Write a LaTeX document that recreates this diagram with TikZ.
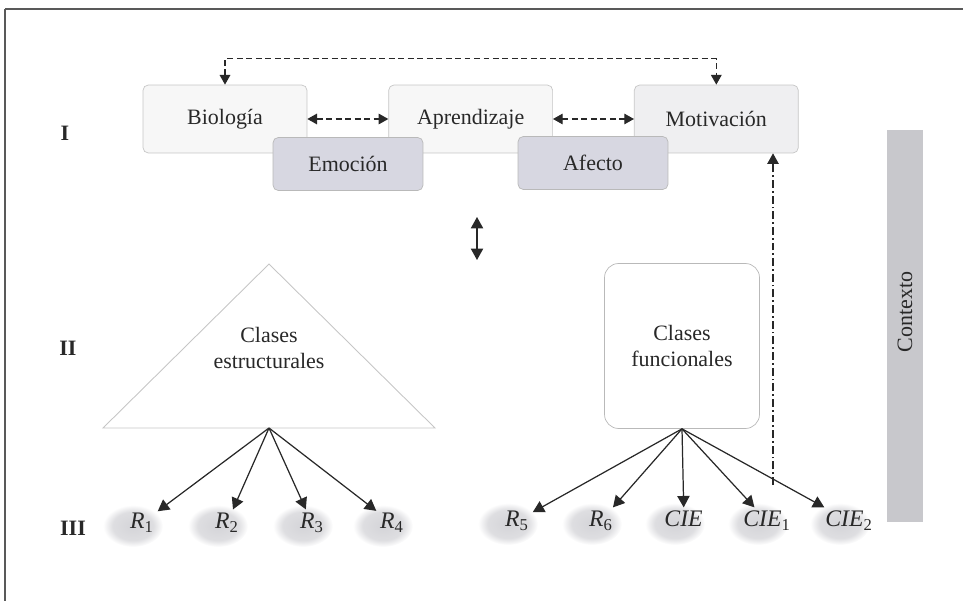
\documentclass[tikz,border=0pt]{standalone}
\usepackage{fontspec}
\setmainfont{Liberation Serif}
\usepackage{xcolor}
\usepackage{tikz}
\usetikzlibrary{arrows.meta, positioning, shapes.geometric, backgrounds}

\definecolor{boxfill}{RGB}{247,247,247}
\definecolor{motfill}{RGB}{239,239,241}
\definecolor{emofill}{RGB}{215,215,225}
\definecolor{ctxfill}{RGB}{200,200,204}
\definecolor{inkgray}{RGB}{40,40,40}
\definecolor{blobin}{RGB}{212,212,216}
\definecolor{blobmid}{RGB}{222,222,225}
\pgfdeclareradialshading{blobshade}{\pgfpoint{0bp}{0bp}}{color(0bp)=(blobin); color(17bp)=(blobmid); color(25bp)=(white); color(50bp)=(white)}

\newcommand{\resp}[2]{\textit{#1}\textsubscript{#2}}

\begin{document}
\begin{tikzpicture}[
  x=0.02cm, y=-0.02cm,
  font=\fontsize{12.5}{15}\selectfont, text=inkgray,
  topbox/.style={rectangle, draw=gray!45, rounded corners=3pt, minimum width=3.28cm,
                 minimum height=1.36cm, fill=boxfill},
  tagbox/.style={rectangle, draw=gray!55, rounded corners=3pt, minimum width=3cm,
                 minimum height=1.06cm, fill=emofill},
  funbox/.style={rectangle, draw=gray!55, rounded corners=8pt, minimum width=3.1cm,
                 minimum height=3.3cm, align=center, fill=white},
  ctxbar/.style={rectangle, fill=ctxfill, minimum width=7.86cm, minimum height=0.72cm, inner sep=0pt},
  level/.style={font=\fontsize{12.5}{15}\selectfont\bfseries},
  resp/.style={inner sep=2pt, font=\fontsize{13.5}{16}\selectfont},
  arr/.style={-{Triangle[length=6.5pt,width=7pt]}, line width=0.7pt, draw=inkgray},
  darr/.style={{Triangle[length=5.5pt,width=6pt]}-{Triangle[length=5.5pt,width=6pt]},
               line width=0.7pt, draw=inkgray, dash pattern=on 3.4pt off 2pt},
  dotarr/.style={-{Triangle[length=6pt,width=6.5pt]}, line width=0.7pt, draw=inkgray,
                 dash pattern=on 4.5pt off 1.7pt on 1pt off 1.7pt},
]
  \useasboundingbox (0,0) rectangle (963,601);
  \draw[gray!70!black, line width=1.2pt] (963,9) -- (5,9);
  \draw[gray!70!black, line width=0.8pt] (5,9) -- (5,601);

  % levels
  \node[level] (lvi) at (65,133) {I};
  \node[level] (lvii) at (68,348) {II};
  \node[level] (lviii) at (73,528) {III};

  % level I
  \node[topbox] (bio) at (225,119) {Biología};
  \node[topbox, right=1.62cm of bio] (apr) {Aprendizaje};
  \node[topbox, right=1.62cm of apr, fill=motfill] (mot) {Motivación};
  \node[tagbox] (emo) at (348,164) {Emoción};
  \node[tagbox] (afe) at (593,163) {Afecto};
  \draw[darr] (bio.east) -- (apr.west);
  \draw[darr] (apr.east) -- (mot.west);
  \draw[darr] (bio.north) -- ++(0,-26) -| (mot.north);

  \coordinate (lt) at (477,217);
  \coordinate (lb) at (477,260);
  \draw[arr, {Triangle[length=6.5pt,width=7pt]}-{Triangle[length=6.5pt,width=7pt]}] (lt) -- (lb);

  % level II
  \coordinate (apex) at (269,264);
  \coordinate (bl) at (103,428);
  \coordinate (br) at (435,428);
  \draw[gray!45, line width=0.5pt] (apex) -- (bl) -- (br) -- cycle;
  \node[align=center] (estr) at (269,348) {Clases\\estructurales};
  \coordinate (est) at (269,428);
  \node[funbox] (fun) at (682,346) {Clases\\funcionales};

  \node[ctxbar, rotate=90] (ctx) at (905,326) {\hspace*{0.56cm}Contexto};

  % level III
  \node[resp] (r1) at (142,523) {\resp{R}{1}};
  \node[resp] (r2) at (227,523) {\resp{R}{2}};
  \node[resp] (r3) at (312,523) {\resp{R}{3}};
  \node[resp] (r4) at (392,523) {\resp{R}{4}};
  \node[resp] (r5) at (517,521) {\resp{R}{5}};
  \node[resp] (r6) at (601,521) {\resp{R}{6}};
  \node[resp] (cie) at (684,521) {\resp{CIE}{}};
  \node[resp] (cie1) at (767,521) {\resp{CIE}{1}};
  \node[resp] (cie2) at (849,521) {\resp{CIE}{2}};
  \begin{scope}[on background layer]
    \foreach \r in {r1,r2,r3,r4,r5,r6,cie,cie1,cie2}
      \shade[shading=blobshade] ([xshift=-0.18cm, yshift=-0.06cm]\r.center) ellipse (30 and 21);
  \end{scope}

  \draw[arr] (est) -- (r1);
  \draw[arr] (est) -- (r2);
  \draw[arr] (est) -- (r3);
  \draw[arr] (est) -- (r4);
  \draw[arr] (fun.south) -- (r5);
  \draw[arr] (fun.south) -- (r6);
  \draw[arr] (fun.south) -- (cie);
  \draw[arr] (fun.south) -- (cie1);
  \draw[arr] (fun.south) -- (cie2);

  \coordinate (ctxlink) at (773,485);
  \draw[dotarr] (ctxlink) -- (ctxlink |- mot.south);
\end{tikzpicture}
\end{document}
